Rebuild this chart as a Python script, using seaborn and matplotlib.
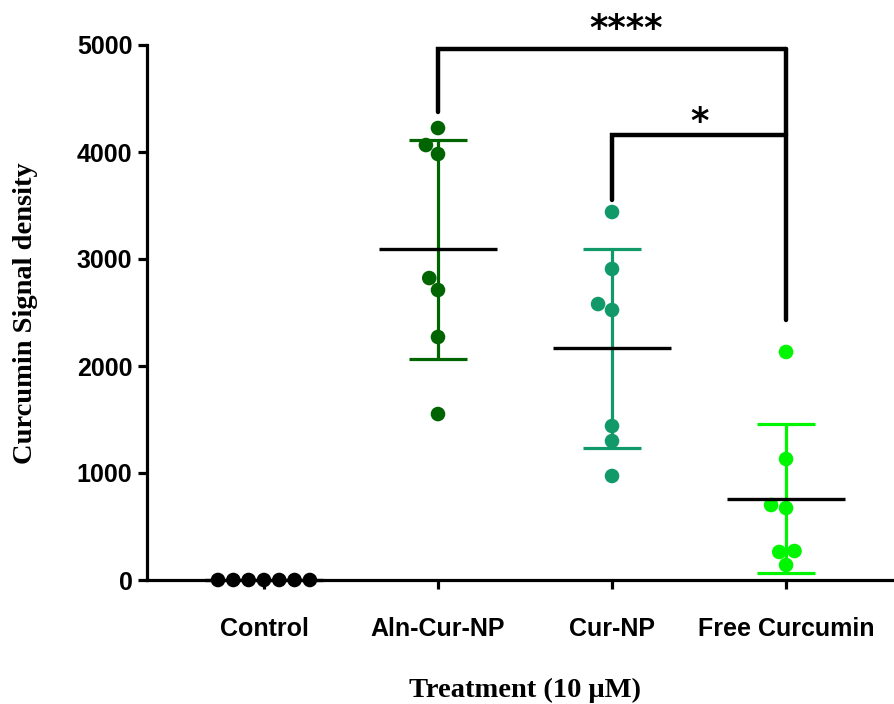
import numpy as np
import pandas as pd
import matplotlib
matplotlib.use("Agg")
import matplotlib.pyplot as plt
import seaborn as sns

# ---- data ----
groups = ["Control", "Aln-Cur-NP", "Cur-NP", "Free Curcumin"]
control = [0, 0, 0, 0, 0, 0, 0]
aln_cur_np = [4224, 4065, 3981, 2822, 2710, 2271, 1551]
cur_np = [3439, 2907, 2579, 2523, 1439, 1299, 972]
free_curcumin = [2131, 1131, 701, 673, 271, 262, 140]
yticks = [0, 1000, 2000, 3000, 4000, 5000]
# significance comparisons: (group a, group b, label)
comparisons = [("Aln-Cur-NP", "Free Curcumin", "****"), ("Cur-NP", "Free Curcumin", "*")]

colors = {"Control": "#000000", "Aln-Cur-NP": "#006400",
          "Cur-NP": "#12996a", "Free Curcumin": "#00f500"}

values = {"Control": control, "Aln-Cur-NP": aln_cur_np,
          "Cur-NP": cur_np, "Free Curcumin": free_curcumin}
df = pd.DataFrame([(g, v) for g in groups for v in values[g]], columns=["group", "value"])

sns.set_style("ticks")
plt.rcParams["font.family"] = ["Liberation Sans", "DejaVu Sans"]
plt.rcParams["text.color"] = "black"
plt.rcParams["axes.labelcolor"] = "black"
plt.rcParams["xtick.color"] = "black"
plt.rcParams["ytick.color"] = "black"

fig = plt.figure(figsize=(8.95, 7.04), dpi=100)
ax = fig.add_axes([147 / 895, 1 - 580 / 704, 748 / 895, 535 / 704])

sns.swarmplot(data=df, x="group", y="value", hue="group", palette=colors,
              order=groups, size=10.5, linewidth=0, legend=False, ax=ax, zorder=3)
for c in ax.collections:
    c.set_clip_on(False)

# mean +/- SD
for i, g in enumerate(groups):
    arr = np.array(values[g], dtype=float)
    m = arr.mean()
    sd = arr.std(ddof=1)
    if g != "Control":
        ax.errorbar(i, m, yerr=sd, color=colors[g], elinewidth=2.3, capsize=21,
                    capthick=2.3, fmt="none", zorder=4, clip_on=False)
    ax.hlines(m, i - 0.34, i + 0.34, color="black", lw=2.4, zorder=5, clip_on=False)

# significance brackets
pos = {g: i for i, g in enumerate(groups)}
bracket_spec = [(4960, 4370, 2430, 5150), (4160, 3550, None, 4280)]
for (a, b, lab), (ytop, yl, yr, ytxt) in zip(comparisons, bracket_spec):
    xa, xb = pos[a], pos[b]
    ax.plot([xa, xa, xb], [yl, ytop, ytop], color="black", lw=3.2,
            solid_joinstyle="miter", clip_on=False, zorder=6)
    if yr is not None:
        ax.plot([xb, xb], [ytop, yr], color="black", lw=3.2, clip_on=False, zorder=6)
    xt = (xa + xb) / 2 + (0.08 if lab == "****" else 0)
    ax.text(xt, ytxt, lab, ha="center", va="center", fontsize=25.5,
            fontweight="bold", family=["DejaVu Sans"], clip_on=False)

ax.set_xlim(-0.672, 3.626)
ax.set_ylim(0, 5000)
ax.set_yticks(yticks)
ax.set_yticklabels([str(t) for t in yticks])

for side in ["top", "right"]:
    ax.spines[side].set_visible(False)
for side in ["left", "bottom"]:
    ax.spines[side].set_linewidth(2.3)
    ax.spines[side].set_color("black")

ax.tick_params(axis="y", length=6.5, width=2.3, pad=4, labelsize=18, colors="black")
ax.tick_params(axis="x", length=6.5, width=2.3, pad=20, labelsize=18, colors="black")
for lab in ax.get_xticklabels() + ax.get_yticklabels():
    lab.set_fontweight("bold")

ax.set_xlabel("Treatment (10 μM)", fontsize=20.5, fontweight="bold",
              family=["Liberation Serif", "DejaVu Serif"])
ax.set_ylabel("Curcumin Signal density", fontsize=20.5, fontweight="bold",
              family=["Liberation Serif", "DejaVu Serif"])
ax.xaxis.set_label_coords((525 - 147) / 748, (580 - 690) / 535)
ax.xaxis.label.set_verticalalignment("center")
ax.yaxis.set_label_coords((26 - 147) / 748, (580 - 313) / 535)
ax.yaxis.label.set_verticalalignment("center")

fig.savefig("out.png", dpi=100)
